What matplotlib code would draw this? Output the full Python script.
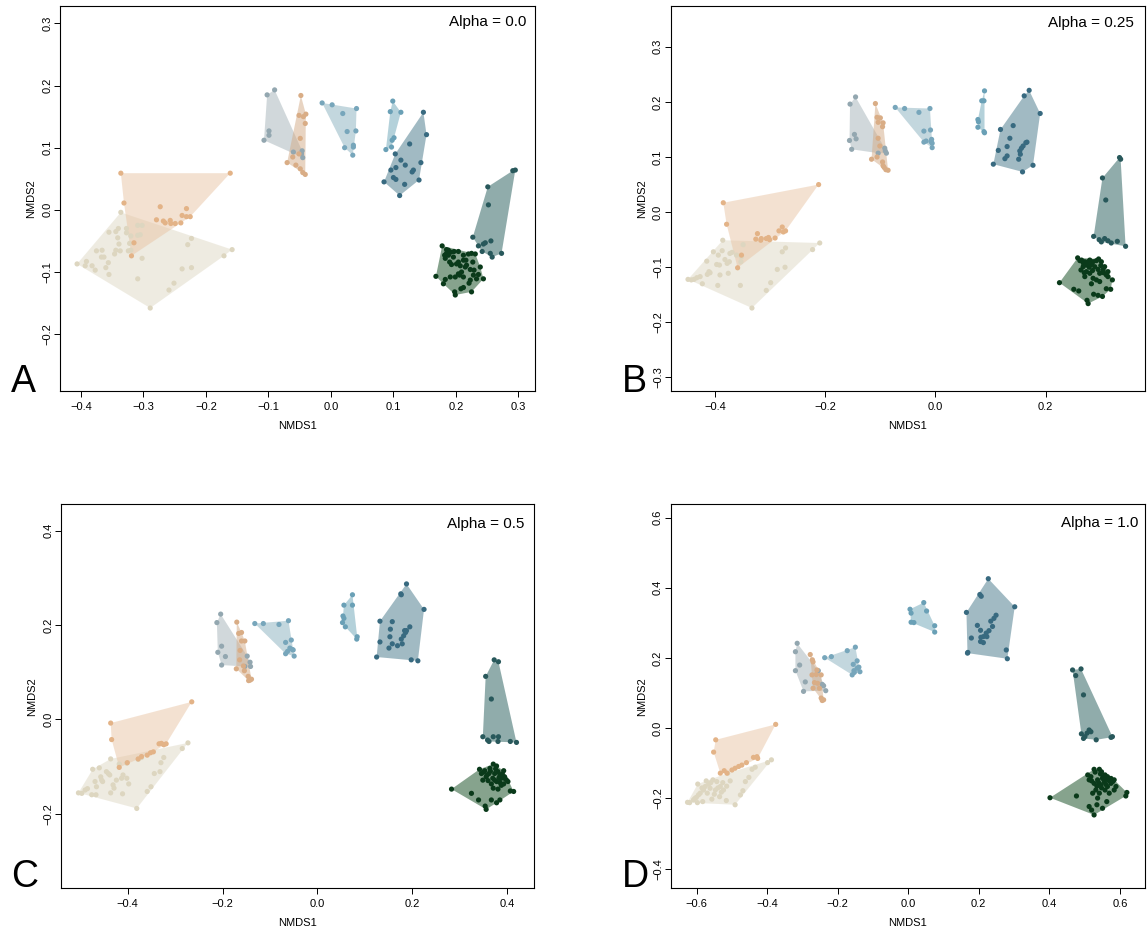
import matplotlib
matplotlib.use("Agg")
import matplotlib.pyplot as plt
from matplotlib.patches import Polygon

plt.rcParams['font.family'] = ['Liberation Sans', 'DejaVu Sans']

# ---------------- data: panel A (Alpha = 0.0) ----------------
a_beige_x = [-0.406, -0.336, -0.158, -0.289, -0.391, -0.393, -0.382, -0.377, -0.375, -0.366, -0.367, -0.363, -0.356, -0.355, -0.360, -0.344, -0.340, -0.341, -0.339, -0.344, -0.346, -0.337, -0.355, -0.327, -0.327, -0.320, -0.322, -0.324, -0.320, -0.309, -0.302, -0.309, -0.305, -0.302, -0.309, -0.259, -0.251, -0.238, -0.223, -0.229, -0.223, -0.171]
a_beige_y = [-0.087, -0.004, -0.064, -0.158, -0.083, -0.090, -0.090, -0.097, -0.066, -0.065, -0.076, -0.076, -0.085, -0.104, -0.093, -0.035, -0.030, -0.045, -0.055, -0.065, -0.071, -0.066, -0.036, -0.030, -0.037, -0.042, -0.054, -0.066, -0.065, -0.025, -0.025, -0.041, -0.040, -0.078, -0.111, -0.129, -0.118, -0.095, -0.093, -0.056, -0.046, -0.074]
a_orange_x = [-0.336, -0.161, -0.331, -0.319, -0.273, -0.231, -0.279, -0.268, -0.265, -0.257, -0.256, -0.249, -0.240, -0.238, -0.231, -0.225, -0.315]
a_orange_y = [0.059, 0.059, 0.011, -0.074, 0.005, 0.002, -0.016, -0.018, -0.021, -0.017, -0.022, -0.022, -0.021, -0.009, -0.011, -0.011, -0.053]
a_gray_x = [-0.102, -0.090, -0.107, -0.099, -0.099, -0.060, -0.046, -0.045, -0.047]
a_gray_y = [0.185, 0.193, 0.112, 0.127, 0.120, 0.093, 0.095, 0.084, 0.090]
a_tan_x = [-0.048, -0.051, -0.044, -0.040, -0.041, -0.049, -0.070, -0.056, -0.049, -0.041, -0.045, -0.061, -0.051]
a_tan_y = [0.184, 0.152, 0.150, 0.154, 0.139, 0.115, 0.076, 0.072, 0.066, 0.057, 0.060, 0.085, 0.090]
a_lblue_x = [-0.014, 0.002, 0.041, 0.019, 0.026, 0.040, 0.022, 0.036, 0.036, 0.035]
a_lblue_y = [0.172, 0.169, 0.163, 0.155, 0.126, 0.127, 0.100, 0.104, 0.101, 0.088]
a_sblue_x = [0.099, 0.095, 0.112, 0.101, 0.098, 0.097, 0.088]
a_sblue_y = [0.175, 0.158, 0.157, 0.116, 0.112, 0.101, 0.097]
a_mblue_x = [0.148, 0.153, 0.085, 0.110, 0.141, 0.126, 0.103, 0.112, 0.096, 0.104, 0.100, 0.104, 0.118, 0.130, 0.132, 0.144, 0.119]
a_mblue_y = [0.157, 0.121, 0.045, 0.023, 0.048, 0.106, 0.090, 0.080, 0.064, 0.068, 0.052, 0.049, 0.041, 0.061, 0.064, 0.076, 0.072]
a_teal_x = [0.291, 0.295, 0.251, 0.252, 0.227, 0.236, 0.244, 0.247, 0.256, 0.242, 0.255, 0.258, 0.273]
a_teal_y = [0.063, 0.064, 0.037, 0.008, -0.044, -0.058, -0.055, -0.053, -0.050, -0.067, -0.070, -0.076, -0.070]
a_green_x = [0.178, 0.185, 0.188, 0.192, 0.197, 0.204, 0.212, 0.220, 0.225, 0.227, 0.231, 0.239, 0.244, 0.236, 0.229, 0.223, 0.215, 0.207, 0.201, 0.193, 0.190, 0.183, 0.182, 0.188, 0.196, 0.204, 0.212, 0.217, 0.209, 0.206, 0.212, 0.223, 0.221, 0.225, 0.212, 0.208, 0.199, 0.198, 0.180, 0.168, 0.183, 0.191, 0.199, 0.204, 0.228, 0.233, 0.216, 0.185]
a_green_y = [-0.058, -0.064, -0.065, -0.068, -0.067, -0.067, -0.073, -0.071, -0.070, -0.084, -0.071, -0.092, -0.111, -0.104, -0.097, -0.096, -0.092, -0.090, -0.087, -0.088, -0.084, -0.078, -0.073, -0.073, -0.076, -0.084, -0.081, -0.089, -0.100, -0.105, -0.108, -0.113, -0.118, -0.132, -0.125, -0.127, -0.137, -0.132, -0.119, -0.107, -0.112, -0.108, -0.108, -0.103, -0.105, -0.111, -0.081, -0.070]

# ---------------- data: panel B (Alpha = 0.25) ----------------
b_beige_x = [-0.449, -0.443, -0.438, -0.433, -0.427, -0.423, -0.415, -0.411, -0.414, -0.403, -0.394, -0.397, -0.392, -0.387, -0.386, -0.382, -0.378, -0.373, -0.374, -0.369, -0.361, -0.352, -0.353, -0.349, -0.395, -0.409, -0.391, -0.376, -0.354, -0.333, -0.307, -0.299, -0.287, -0.273, -0.278, -0.272, -0.223, -0.210]
b_beige_y = [-0.122, -0.123, -0.122, -0.119, -0.117, -0.130, -0.089, -0.108, -0.113, -0.072, -0.078, -0.095, -0.096, -0.070, -0.051, -0.086, -0.093, -0.075, -0.090, -0.073, -0.078, -0.081, -0.090, -0.059, -0.133, -0.110, -0.114, -0.111, -0.133, -0.174, -0.142, -0.128, -0.104, -0.100, -0.072, -0.065, -0.068, -0.056]
b_orange_x = [-0.385, -0.212, -0.379, -0.359, -0.323, -0.326, -0.317, -0.316, -0.307, -0.303, -0.301, -0.291, -0.284, -0.278, -0.276, -0.272, -0.352]
b_orange_y = [0.017, 0.050, -0.022, -0.101, -0.039, -0.049, -0.051, -0.048, -0.048, -0.046, -0.050, -0.047, -0.034, -0.027, -0.036, -0.034, -0.078]
b_gray_x = [-0.155, -0.145, -0.156, -0.152, -0.147, -0.144, -0.092, -0.089, -0.091, -0.104]
b_gray_y = [0.196, 0.209, 0.130, 0.114, 0.141, 0.133, 0.116, 0.107, 0.111, 0.107]
b_tan_x = [-0.109, -0.106, -0.100, -0.095, -0.104, -0.096, -0.104, -0.116, -0.106, -0.096, -0.095, -0.090, -0.086, -0.093, -0.101]
b_tan_y = [0.197, 0.172, 0.171, 0.162, 0.163, 0.155, 0.134, 0.096, 0.100, 0.091, 0.084, 0.077, 0.076, 0.081, 0.120]
b_lblue_x = [-0.073, -0.056, -0.030, -0.010, -0.021, -0.009, -0.021, -0.017, -0.007, -0.006, -0.006, -0.008]
b_lblue_y = [0.190, 0.188, 0.181, 0.188, 0.147, 0.149, 0.127, 0.129, 0.132, 0.125, 0.117, 0.128]
b_sblue_x = [0.089, 0.084, 0.088, 0.077, 0.078, 0.077, 0.088, 0.089]
b_sblue_y = [0.220, 0.202, 0.202, 0.168, 0.164, 0.154, 0.146, 0.144]
b_mblue_x = [0.170, 0.161, 0.190, 0.177, 0.158, 0.105, 0.118, 0.141, 0.135, 0.114, 0.130, 0.126, 0.130, 0.151, 0.153, 0.156, 0.159, 0.164, 0.166, 0.154]
b_mblue_y = [0.221, 0.211, 0.179, 0.085, 0.073, 0.087, 0.150, 0.157, 0.134, 0.112, 0.119, 0.097, 0.102, 0.096, 0.111, 0.116, 0.120, 0.126, 0.127, 0.105]
b_teal_x = [0.334, 0.336, 0.303, 0.309, 0.287, 0.297, 0.301, 0.307, 0.313, 0.319, 0.330, 0.345]
b_teal_y = [0.099, 0.096, 0.062, 0.022, -0.044, -0.050, -0.054, -0.048, -0.052, -0.056, -0.053, -0.062]
b_green_x = [0.225, 0.258, 0.265, 0.271, 0.268, 0.274, 0.280, 0.286, 0.296, 0.301, 0.307, 0.313, 0.310, 0.321, 0.298, 0.292, 0.286, 0.280, 0.274, 0.264, 0.271, 0.289, 0.304, 0.318, 0.310, 0.303, 0.295, 0.287, 0.277, 0.275, 0.260, 0.251, 0.283, 0.298, 0.277, 0.313,
             0.262, 0.268, 0.283, 0.292, 0.300, 0.305, 0.295, 0.285, 0.279, 0.270]
b_green_y = [-0.128, -0.083, -0.087, -0.090, -0.099, -0.096, -0.087, -0.090, -0.085, -0.090, -0.099, -0.108, -0.114, -0.123, -0.111, -0.123, -0.120, -0.111, -0.108, -0.105, -0.117, -0.099, -0.105, -0.140, -0.139, -0.153, -0.151, -0.149, -0.166, -0.160, -0.143, -0.140, -0.130, -0.126, -0.090, -0.117,
             -0.088, -0.092, -0.095, -0.088, -0.097, -0.110, -0.104, -0.106, -0.100, -0.110]

# ---------------- data: panel C (Alpha = 0.5) ----------------
c_beige_x = [-0.504, -0.497, -0.490, -0.485, -0.476, -0.467, -0.469, -0.466, -0.460, -0.457, -0.455, -0.453, -0.445, -0.441, -0.438, -0.436, -0.436, -0.431, -0.429, -0.424, -0.418, -0.413, -0.410, -0.411, -0.402, -0.402, -0.398, -0.381, -0.359, -0.351, -0.344, -0.332, -0.330, -0.324, -0.285, -0.273, -0.378, -0.371, -0.474]
c_beige_y = [-0.156, -0.157, -0.150, -0.147, -0.160, -0.160, -0.132, -0.143, -0.103, -0.122, -0.129, -0.132, -0.111, -0.115, -0.118, -0.084, -0.156, -0.139, -0.146, -0.129, -0.095, -0.125, -0.118, -0.158, -0.093, -0.125, -0.137, -0.189, -0.153, -0.143, -0.115, -0.111, -0.092, -0.081, -0.062, -0.050, -0.085, -0.081, -0.106]
c_orange_x = [-0.436, -0.265, -0.434, -0.418, -0.401, -0.378, -0.371, -0.359, -0.352, -0.346, -0.334, -0.329, -0.324, -0.319]
c_orange_y = [-0.008, 0.037, -0.043, -0.102, -0.092, -0.084, -0.079, -0.076, -0.071, -0.069, -0.052, -0.051, -0.054, -0.052]
c_gray_x = [-0.212, -0.204, -0.210, -0.202, -0.194, -0.202, -0.148, -0.142, -0.141, -0.153]
c_gray_y = [0.205, 0.223, 0.142, 0.155, 0.133, 0.115, 0.134, 0.121, 0.112, 0.112]
c_tan_x = [-0.170, -0.166, -0.160, -0.160, -0.153, -0.163, -0.171, -0.156, -0.154, -0.146, -0.142, -0.139, -0.145, -0.164]
c_tan_y = [0.206, 0.182, 0.184, 0.166, 0.166, 0.146, 0.107, 0.113, 0.103, 0.091, 0.083, 0.085, 0.082, 0.126]
c_lblue_x = [-0.132, -0.114, -0.081, -0.061, -0.067, -0.055, -0.067, -0.063, -0.058, -0.051, -0.049, -0.053]
c_lblue_y = [0.203, 0.203, 0.201, 0.209, 0.163, 0.168, 0.139, 0.144, 0.151, 0.147, 0.134, 0.148]
c_sblue_x = [0.074, 0.056, 0.074, 0.054, 0.056, 0.053, 0.059, 0.084, 0.083]
c_sblue_y = [0.264, 0.242, 0.242, 0.219, 0.214, 0.205, 0.196, 0.175, 0.170]
c_mblue_x = [0.188, 0.176, 0.177, 0.225, 0.212, 0.198, 0.125, 0.132, 0.158, 0.132, 0.154, 0.153, 0.151, 0.158, 0.169, 0.179, 0.177, 0.182, 0.186, 0.188, 0.195, 0.184]
c_mblue_y = [0.287, 0.266, 0.264, 0.233, 0.124, 0.126, 0.132, 0.208, 0.207, 0.164, 0.191, 0.175, 0.151, 0.160, 0.156, 0.160, 0.170, 0.177, 0.184, 0.188, 0.196, 0.188]
c_teal_x = [0.373, 0.382, 0.355, 0.367, 0.349, 0.359, 0.362, 0.371, 0.382, 0.381, 0.407, 0.420]
c_teal_y = [0.126, 0.122, 0.091, 0.043, -0.037, -0.044, -0.047, -0.037, -0.037, -0.047, -0.047, -0.049]
c_green_x = [0.283, 0.325, 0.340, 0.342, 0.346, 0.353, 0.356, 0.362, 0.371, 0.378, 0.381, 0.385, 0.393, 0.395, 0.399, 0.402, 0.393, 0.385, 0.374, 0.367, 0.360, 0.371, 0.381, 0.407, 0.414, 0.385, 0.378, 0.367, 0.356, 0.354, 0.349, 0.388, 0.374, 0.364,
             0.350, 0.358, 0.365, 0.376, 0.383, 0.390, 0.396, 0.370, 0.378, 0.388]
c_green_y = [-0.148, -0.157, -0.171, -0.106, -0.115, -0.109, -0.122, -0.115, -0.095, -0.099, -0.111, -0.118, -0.109, -0.122, -0.129, -0.132, -0.137, -0.134, -0.129, -0.137, -0.130, -0.146, -0.148, -0.152, -0.153, -0.171, -0.177, -0.171, -0.191, -0.184, -0.129, -0.125, -0.115, -0.104,
             -0.112, -0.118, -0.110, -0.105, -0.124, -0.116, -0.126, -0.125, -0.132, -0.140]

# ---------------- data: panel D (Alpha = 1.0) ----------------
d_beige_x = [-0.626, -0.620, -0.609, -0.598, -0.601, -0.590, -0.583, -0.581, -0.573, -0.576, -0.566, -0.562, -0.554, -0.557, -0.547, -0.543, -0.535, -0.533, -0.526, -0.524, -0.516, -0.491, -0.476, -0.469, -0.462, -0.452, -0.443, -0.434, -0.399, -0.388, -0.512,
             -0.595, -0.585, -0.570, -0.560, -0.550, -0.540, -0.530, -0.505, -0.515, -0.605, -0.597]
d_beige_y = [-0.211, -0.212, -0.204, -0.212, -0.197, -0.185, -0.209, -0.176, -0.150, -0.166, -0.159, -0.171, -0.147, -0.202, -0.176, -0.152, -0.195, -0.166, -0.155, -0.176, -0.206, -0.218, -0.190, -0.178, -0.152, -0.140, -0.117, -0.111, -0.098, -0.090, -0.128,
             -0.190, -0.170, -0.185, -0.155, -0.188, -0.170, -0.182, -0.150, -0.165, -0.200, -0.159]
d_orange_x = [-0.546, -0.376, -0.552, -0.533, -0.522, -0.500, -0.491, -0.481, -0.472, -0.459, -0.439, -0.429, -0.427, -0.514]
d_orange_y = [-0.033, 0.011, -0.068, -0.128, -0.121, -0.119, -0.114, -0.109, -0.105, -0.098, -0.083, -0.081, -0.086, -0.128]
d_gray_x = [-0.315, -0.320, -0.320, -0.308, -0.292, -0.297, -0.244, -0.234, -0.255, -0.240]
d_gray_y = [0.242, 0.218, 0.164, 0.180, 0.132, 0.105, 0.125, 0.107, 0.164, 0.121]
d_tan_x = [-0.278, -0.272, -0.270, -0.273, -0.261, -0.247, -0.266, -0.270, -0.257, -0.252, -0.247, -0.240, -0.244, -0.259]
d_tan_y = [0.210, 0.195, 0.189, 0.152, 0.153, 0.152, 0.130, 0.114, 0.128, 0.114, 0.086, 0.081, 0.079, 0.166]
d_lblue_x = [-0.237, -0.218, -0.173, -0.150, -0.145, -0.156, -0.159, -0.153, -0.145, -0.137, -0.140, -0.154]
d_lblue_y = [0.201, 0.204, 0.221, 0.231, 0.192, 0.182, 0.152, 0.159, 0.171, 0.161, 0.174, 0.164]
d_sblue_x = [0.044, 0.005, 0.008, 0.008, 0.016, 0.052, 0.075, 0.075]
d_sblue_y = [0.358, 0.339, 0.328, 0.302, 0.301, 0.334, 0.292, 0.274]
d_mblue_x = [0.227, 0.203, 0.207, 0.302, 0.281, 0.278, 0.169, 0.168, 0.165, 0.196, 0.205, 0.179, 0.205, 0.206, 0.213, 0.221, 0.229, 0.234, 0.243, 0.249, 0.223, 0.239, 0.213]
d_mblue_y = [0.426, 0.381, 0.376, 0.346, 0.198, 0.223, 0.216, 0.214, 0.330, 0.293, 0.279, 0.257, 0.247, 0.259, 0.261, 0.271, 0.278, 0.305, 0.313, 0.322, 0.261, 0.290, 0.244]
d_teal_x = [0.466, 0.490, 0.475, 0.497, 0.491, 0.497, 0.507, 0.513, 0.518, 0.533, 0.575, 0.579, 0.501]
d_teal_y = [0.166, 0.169, 0.150, 0.095, -0.016, -0.029, -0.014, -0.005, -0.010, -0.033, -0.026, -0.024, -0.024]
d_green_x = [0.402, 0.477, 0.527, 0.542, 0.548, 0.558, 0.565, 0.575, 0.580, 0.589, 0.584, 0.620, 0.617, 0.518, 0.513, 0.527, 0.537, 0.546, 0.556, 0.565, 0.532, 0.542, 0.558, 0.523, 0.537, 0.563, 0.551, 0.535, 0.513, 0.520, 0.527, 0.509, 0.575, 0.584, 0.551, 0.570,
             0.530, 0.545, 0.552, 0.560, 0.540, 0.570, 0.535, 0.560, 0.548, 0.520]
d_green_y = [-0.198, -0.193, -0.117, -0.117, -0.124, -0.133, -0.138, -0.143, -0.152, -0.166, -0.176, -0.183, -0.193, -0.138, -0.147, -0.157, -0.147, -0.161, -0.152, -0.166, -0.176, -0.185, -0.176, -0.185, -0.199, -0.209, -0.228, -0.218, -0.223, -0.233, -0.247, -0.133, -0.157, -0.147, -0.143, -0.185,
             -0.125, -0.130, -0.140, -0.145, -0.155, -0.150, -0.165, -0.160, -0.170, -0.150]

panel_titles = ["Alpha = 0.0", "Alpha = 0.25", "Alpha = 0.5", "Alpha = 1.0"]
panel_letters = ["A", "B", "C", "D"]

# group styles: (point colour, hull base colour) -- hull drawn with alpha 0.5
group_styles = [
    ("#ddd6c0", "#dfd9c5"),  # beige
    ("#e3b387", "#e9c5a5"),  # orange
    ("#93a7b0", "#a5b3b9"),  # grey
    ("#d9ad86", "#d3ab87"),  # tan
    ("#77a6bb", "#89b1bf"),  # light blue
    ("#6aa0b6", "#6ba5b7"),  # small light blue
    ("#386a80", "#457789"),  # medium blue
    ("#28585b", "#235b59"),  # teal
    ("#0a3a1a", "#0f491d"),  # dark green
]

panels = [
    [(a_beige_x, a_beige_y), (a_orange_x, a_orange_y), (a_gray_x, a_gray_y), (a_tan_x, a_tan_y),
     (a_lblue_x, a_lblue_y), (a_sblue_x, a_sblue_y), (a_mblue_x, a_mblue_y), (a_teal_x, a_teal_y), (a_green_x, a_green_y)],
    [(b_beige_x, b_beige_y), (b_orange_x, b_orange_y), (b_gray_x, b_gray_y), (b_tan_x, b_tan_y),
     (b_lblue_x, b_lblue_y), (b_sblue_x, b_sblue_y), (b_mblue_x, b_mblue_y), (b_teal_x, b_teal_y), (b_green_x, b_green_y)],
    [(c_beige_x, c_beige_y), (c_orange_x, c_orange_y), (c_gray_x, c_gray_y), (c_tan_x, c_tan_y),
     (c_lblue_x, c_lblue_y), (c_sblue_x, c_sblue_y), (c_mblue_x, c_mblue_y), (c_teal_x, c_teal_y), (c_green_x, c_green_y)],
    [(d_beige_x, d_beige_y), (d_orange_x, d_orange_y), (d_gray_x, d_gray_y), (d_tan_x, d_tan_y),
     (d_lblue_x, d_lblue_y), (d_sblue_x, d_sblue_y), (d_mblue_x, d_mblue_y), (d_teal_x, d_teal_y), (d_green_x, d_green_y)],
]

# layout / axes settings
W, H = 1147, 933
rects = [
    [60.2 / W, 1 - 390.7 / H, 475.1 / W, 384.7 / H],
    [670.6 / W, 1 - 390.7 / H, 473.9 / W, 384.7 / H],
    [61.1 / W, 1 - 888.3 / H, 473.3 / W, 384.0 / H],
    [670.6 / W, 1 - 888.3 / H, 473.9 / W, 384.0 / H],
]
xlims = [(-0.433, 0.327), (-0.4806, 0.3793), (-0.5406, 0.4578), (-0.674, 0.670)]
ylims = [(-0.291, 0.328), (-0.324, 0.374), (-0.3583, 0.4558), (-0.456, 0.638)]
xticks = [[-0.4, -0.3, -0.2, -0.1, 0.0, 0.1, 0.2, 0.3],
          [-0.4, -0.2, 0.0, 0.2],
          [-0.4, -0.2, 0.0, 0.2, 0.4],
          [-0.6, -0.4, -0.2, 0.0, 0.2, 0.4, 0.6]]
yticks = [[-0.2, -0.1, 0.0, 0.1, 0.2, 0.3],
          [-0.3, -0.2, -0.1, 0.0, 0.1, 0.2, 0.3],
          [-0.2, 0.0, 0.2, 0.4],
          [-0.4, -0.2, 0.0, 0.2, 0.4, 0.6]]
title_offsets = [(-6.5, -6.5), (-7.9, -7.0), (-7.5, -8.9), (-4.7, -8.4)]
letter_pos = [(11 / W, 1 - 392 / H), (622 / W, 1 - 392 / H), (11 / W, 1 - 887.3 / H), (622 / W, 1 - 887.3 / H)]


def convex_hull(xs, ys):
    pts = sorted(set(zip(xs, ys)))
    if len(pts) < 3:
        return pts

    def cross(o, a, b):
        return (a[0] - o[0]) * (b[1] - o[1]) - (a[1] - o[1]) * (b[0] - o[0])

    lower = []
    for p in pts:
        while len(lower) >= 2 and cross(lower[-2], lower[-1], p) <= 0:
            lower.pop()
        lower.append(p)
    upper = []
    for p in reversed(pts):
        while len(upper) >= 2 and cross(upper[-2], upper[-1], p) <= 0:
            upper.pop()
        upper.append(p)
    return lower[:-1] + upper[:-1]


fig = plt.figure(figsize=(W / 100, H / 100), dpi=100)

for i, groups in enumerate(panels):
    ax = fig.add_axes(rects[i])
    for (xs, ys), (pc, hc) in zip(groups, group_styles):
        hull = convex_hull(xs, ys)
        ax.add_patch(Polygon(hull, closed=True, facecolor=hc, alpha=0.5, edgecolor='none', linewidth=0))
        ax.scatter(xs, ys, s=14, color=pc, edgecolors='none', zorder=3)
    ax.set_xlim(*xlims[i])
    ax.set_ylim(*ylims[i])
    ax.set_xticks(xticks[i])
    ax.set_yticks(yticks[i])
    ax.set_xticklabels([f"{t:.1f}".replace("-", "\u2212") for t in xticks[i]])
    ax.set_yticklabels([f"{t:.1f}".replace("-", "\u2212") for t in yticks[i]], rotation=90, va='center')
    ax.tick_params(axis='both', direction='out', length=4.3, width=0.7, labelsize=8, colors='black')
    ax.tick_params(axis='x', pad=3.6)
    ax.tick_params(axis='y', pad=1.2)
    for sp in ax.spines.values():
        sp.set_linewidth(0.8)
        sp.set_color('black')
    ax.set_xlabel("NMDS1", fontsize=8)
    ax.set_ylabel("NMDS2", fontsize=8)
    ax.xaxis.set_label_coords(0.5, -30 / 384.7)
    ax.yaxis.set_label_coords(-24 / 475.0, 0.5)
    ax.annotate(panel_titles[i], xy=(1, 1), xycoords='axes fraction',
                xytext=title_offsets[i], textcoords='offset points',
                ha='right', va='top', fontsize=11)
    fig.text(letter_pos[i][0], letter_pos[i][1], panel_letters[i], fontsize=27,
             ha='left', va='baseline')

fig.savefig("out.png", dpi=100)
